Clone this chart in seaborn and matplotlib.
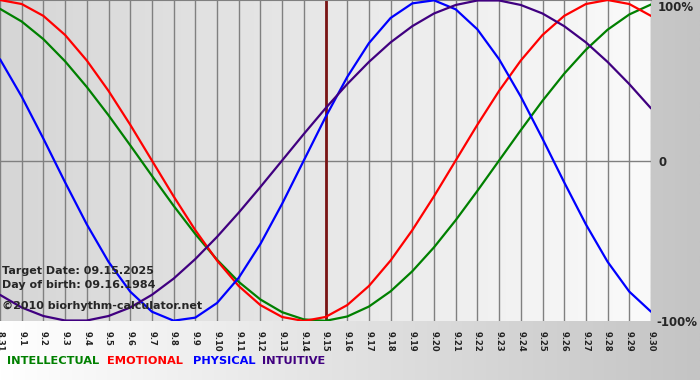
import numpy as np
import pandas as pd
import matplotlib
matplotlib.use("Agg")
import matplotlib.pyplot as plt
import seaborn as sns

# Dias del grafico (8.31 a 9.30)
day_labels = ["8.31"] + [f"9.{i}" for i in range(1, 31)]

# Valores (fraccion de 100%)
physical = [0.631, 0.398, 0.136, -0.136, -0.398, -0.631, -0.817, -0.942, -0.998, -0.979,
            -0.888, -0.731, -0.520, -0.270, 0.0, 0.270, 0.520, 0.731, 0.888, 0.979,
            0.998, 0.942, 0.817, 0.631, 0.398, 0.136, -0.136, -0.398, -0.631, -0.817, -0.942]
emotional = [1.0, 0.975, 0.901, 0.782, 0.623, 0.434, 0.223, 0.0, -0.223, -0.434,
             -0.623, -0.782, -0.901, -0.975, -1.0, -0.975, -0.901, -0.782, -0.623, -0.434,
             -0.223, 0.0, 0.223, 0.434, 0.623, 0.782, 0.901, 0.975, 1.0, 0.975, 0.901]
intellectual = [0.945, 0.866, 0.756, 0.618, 0.458, 0.282, 0.095, -0.095, -0.282, -0.458,
                -0.618, -0.756, -0.866, -0.945, -0.990, -0.999, -0.972, -0.910, -0.815, -0.690,
                -0.541, -0.372, -0.189, 0.0, 0.189, 0.372, 0.541, 0.690, 0.815, 0.910, 0.972]
intuitive = [-0.837, -0.916, -0.969, -0.997, -0.997, -0.969, -0.916, -0.837, -0.736, -0.614,
             -0.476, -0.325, -0.165, 0.0, 0.165, 0.325, 0.476, 0.614, 0.736, 0.837,
             0.916, 0.969, 0.997, 0.997, 0.969, 0.916, 0.837, 0.736, 0.614, 0.476, 0.325]

target_idx = 15
colors = {"INTELLECTUAL": "#008000", "EMOTIONAL": "#ff0000",
          "PHYSICAL": "#0000ff", "INTUITIVE": "#400080"}

days = np.arange(len(day_labels))
df = pd.concat([
    pd.DataFrame({"day": days, "value": intellectual, "rhythm": "INTELLECTUAL"}),
    pd.DataFrame({"day": days, "value": emotional, "rhythm": "EMOTIONAL"}),
    pd.DataFrame({"day": days, "value": physical, "rhythm": "PHYSICAL"}),
    pd.DataFrame({"day": days, "value": intuitive, "rhythm": "INTUITIVE"}),
])

sns.set_style("white")
plt.rcParams["font.family"] = ["DejaVu Sans"]

fig = plt.figure(figsize=(7, 3.8), dpi=100)

# fondo de la figura (degradado)
bg = fig.add_axes([0, 0, 1, 1], zorder=-1)
grad = np.linspace(0, 1, 256).reshape(1, -1)
bg.imshow(grad, cmap=matplotlib.colors.LinearSegmentedColormap.from_list("bg", ["#ffffff", "#c4c4c4"]),
          aspect="auto", extent=[0, 1, 0, 1])
bg.axis("off")

ax = fig.add_axes([0, 1 - 321 / 380, 651 / 700, 321 / 380])
ax.imshow(grad, cmap=matplotlib.colors.LinearSegmentedColormap.from_list("pl", ["#d6d6d6", "#fafafa"]),
          aspect="auto", extent=[0, 30, -1, 1], zorder=0)

for d in days:
    ax.axvline(d, color="#808080", lw=1, zorder=1)
ax.axhline(0, color="#808080", lw=1, zorder=1)
ax.axvline(target_idx, color="#7a1515", lw=2, zorder=2)

sns.lineplot(data=df, x="day", y="value", hue="rhythm", palette=colors,
             legend=False, lw=1.6, ax=ax, zorder=3)

ax.set_xlim(0, 30)
ax.set_ylim(-1, 1)
ax.set_xlabel("")
ax.set_ylabel("")
ax.set_xticks(days)
ax.set_xticklabels(day_labels, rotation=-90, fontsize=6, fontweight="bold", color="#222222")
ax.tick_params(axis="x", length=5, color="#808080", pad=2)
ax.set_yticks([])
for s in ax.spines.values():
    s.set_visible(False)
ax.spines["top"].set_visible(True)
ax.spines["top"].set_color("#808080")

# etiquetas del eje derecho
tr = ax.get_yaxis_transform()
ax.text(1.011, 0.995, "100%", transform=tr, fontsize=8.5, fontweight="bold", va="top", ha="left")
ax.text(1.011, -0.01, "0", transform=tr, fontsize=8.5, fontweight="bold", va="center", ha="left")
ax.text(1.008, -1.01, "-100%", transform=tr, fontsize=8.5, fontweight="bold", va="center", ha="left")

ax.text(0.1, -0.688, "Target Date: 09.15.2025", fontsize=8, fontweight="bold", va="center", zorder=4)
ax.text(0.1, -0.776, "Day of birth: 09.16.1984", fontsize=8, fontweight="bold", va="center", zorder=4)
ax.text(0.1, -0.907, "\u00a92010 biorhythm-calculator.net", fontsize=8, fontweight="bold", va="center", zorder=4)

for name, xpos in [("INTELLECTUAL", 7), ("EMOTIONAL", 107), ("PHYSICAL", 193), ("INTUITIVE", 262)]:
    fig.text(xpos / 700, 1 - 361 / 380, name, color=colors[name], fontsize=8.2,
             fontweight="bold", va="center")

fig.savefig("out.png", dpi=100)
